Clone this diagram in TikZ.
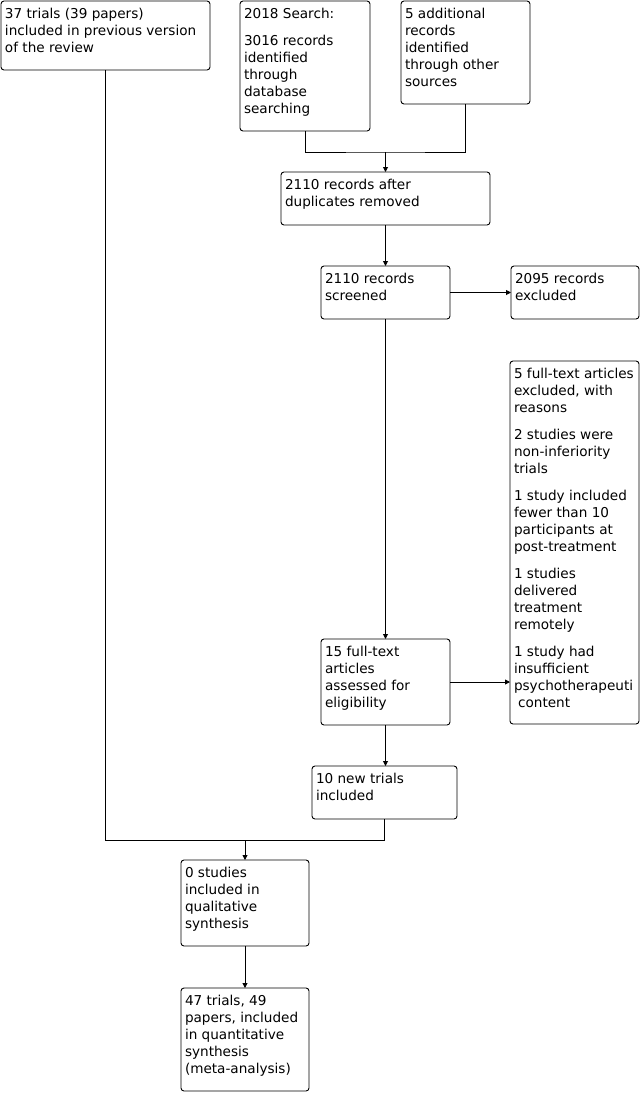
\documentclass[tikz,border=0pt]{standalone}
\usepackage{fontspec}
\setmainfont{DejaVu Sans}
\usetikzlibrary{arrows.meta}

% box text: width, height, content (top aligned)
\newcommand{\boxtext}[3]{\parbox[c][#2pt][t]{#1pt}{\raggedright\leftskip=4pt\parindent=0pt%
  \fontsize{13.6}{17}\selectfont\rule{0pt}{17pt}#3}}
\newcommand{\gap}{\par\vspace{10pt}}

\begin{document}
\begin{tikzpicture}[x=1pt,y=-1pt,line width=0.9pt,
  flowbox/.style={draw,rounded corners=3pt,inner sep=0pt,outer sep=0pt,anchor=north west},
  arrow/.style={-{Triangle[length=5pt,width=5pt]}}]
  \useasboundingbox (0,0) rectangle (642,1093);

  % identification
  \node[flowbox] (prev) at (1,1) {\boxtext{209}{69}{37 trials (39 papers)\\included in previous version\\of the review}};
  \node[flowbox] (search) at (240,1) {\boxtext{130}{130}{2018 Search:\gap 3016 records\\identified\\through\\database\\searching}};
  \node[flowbox] (extra) at (401,1) {\boxtext{129}{103}{5 additional\\records\\identified\\through other\\sources}};

  % screening
  \node[flowbox] (dedup) at (281,172) {\boxtext{209}{53}{2110 records after\\duplicates removed}};
  \node[flowbox] (screen) at (321,266) {\boxtext{129}{53}{2110 records\\screened}};
  \node[flowbox] (excl) at (511,266) {\boxtext{128}{53}{2095 records\\excluded}};

  % eligibility
  \node[flowbox] (reasons) at (510,361) {\boxtext{129}{363}{5 full-text articles\\excluded, with\\reasons\gap
    2 studies were\\non-inferiority\\trials\gap
    1 study included\\fewer than 10\\participants at\\post-treatment\gap
    1 studies\\delivered\\treatment\\remotely\gap
    1 study had\\insufficient\\psychotherapeuti\\\hspace*{0.3em}content}};
  \node[flowbox] (assess) at (321,639) {\boxtext{129}{86}{15 full-text\\articles\\assessed for\\eligibility}};
  \node[flowbox] (newtr) at (312,766) {\boxtext{145}{53}{10 new trials\\included}};

  % included
  \node[flowbox] (qual) at (181,860) {\boxtext{128}{86}{0 studies\\included in\\qualitative\\synthesis}};
  \node[flowbox] (quant) at (181,988) {\boxtext{128}{103}{47 trials, 49\\papers, included\\in quantitative\\synthesis\\(meta-analysis)}};

  % connectors
  \coordinate (mergeA) at (385.5,152);
  \coordinate (mergeB) at (245,840);
  \draw (search.south) |- (mergeA) -| (extra.south);
  \draw[arrow] (mergeA) -- (mergeA |- dedup.north);
  \draw[arrow] (dedup.south) -- (screen.north);
  \draw[arrow] (screen.east) -- (excl.west);
  \draw[arrow] (screen.south) -- (assess.north);
  \draw[arrow] (assess.east) -- (assess.east -| reasons.west);
  \draw[arrow] (assess.south) -- (assess.south |- newtr.north);
  \draw (prev.south) |- (mergeB) -| (newtr.south);
  \draw[arrow] (mergeB) -- (qual.north);
  \draw[arrow] (qual.south) -- (quant.north);
\end{tikzpicture}
\end{document}
